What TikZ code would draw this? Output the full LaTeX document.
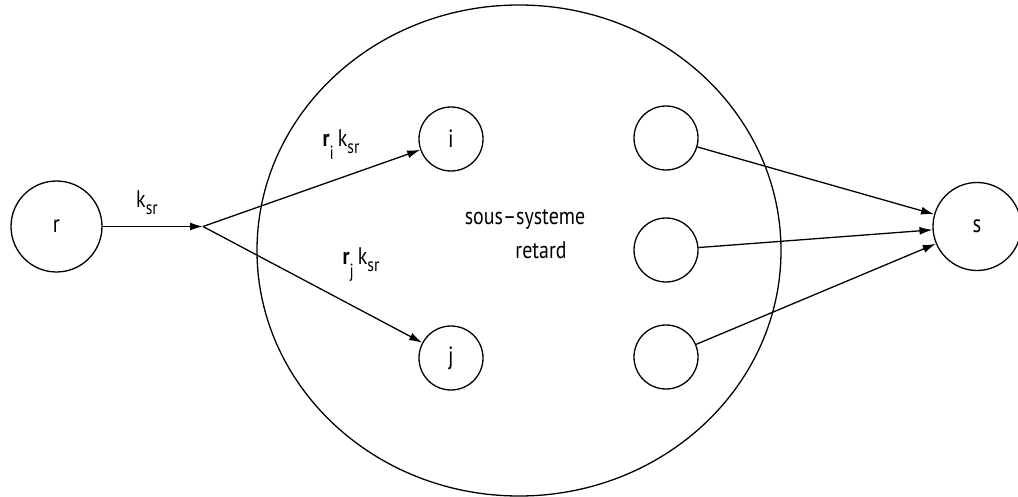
\documentclass[tikz,border=0pt]{standalone}
\usepackage{fontspec}
\setmainfont{PT Sans}[FakeStretch=0.83]
\usetikzlibrary{arrows.meta,shapes.geometric}
\newcommand{\sbx}[1]{\raisebox{-0.3em}{\fontsize{19}{21}\selectfont #1}}
\newcommand{\rsub}[1]{{\bfseries r}\raisebox{-0.55em}{\fontsize{19}{21}\selectfont #1}}
\begin{document}
\begin{tikzpicture}[x=1pt,y=-1pt,
  circ/.style={draw, circle, line width=1.3pt, inner sep=0pt, font=\fontsize{25}{28}\selectfont},
  arr/.style={line width=1.3pt, -{Latex[length=13pt,width=8pt]}},
  lbl/.style={inner sep=0pt, font=\fontsize{24}{27}\selectfont}]
\useasboundingbox (0,0) rectangle (1018,497);
\node[circ, minimum size=91pt] (r) at (56.5,226.5) {r};
\node[circ, minimum size=88pt] (s) at (977,226.5) {s};
\node[draw, ellipse, line width=1.3pt, inner sep=0pt, minimum width=524pt, minimum height=491pt] (big) at (519,250.5) {};
\node[circ, minimum size=64pt] (i) at (451,139) {i};
\node[circ, minimum size=64pt] (j) at (451,358) {j};
\node[circ, minimum size=64pt] (a) at (666,138) {};
\node[circ, minimum size=64pt] (b) at (666,250) {};
\node[circ, minimum size=64pt] (c) at (666,357) {};
\coordinate (jn) at (203,226.5);
\node[lbl] (t1) at (525,219) {sous--systeme};
\node[lbl] (t2) at (541,250) {retard};
\node[lbl] (l1) at (147,203) {k\sbx{sr}};
\node[lbl] (l2) at (341,145) {\rsub{i}\,k\sbx{sr}};
\node[lbl] (l3) at (361,265) {\rsub{j}\,k\sbx{sr}};
\draw[arr] (r) -- (jn);
\draw[arr] (jn) -- (i);
\draw[arr] (jn) -- (j);
\draw[arr] (a) -- (s);
\draw[arr] (b) -- (s);
\draw[arr] (c) -- (s);
\end{tikzpicture}
\end{document}
